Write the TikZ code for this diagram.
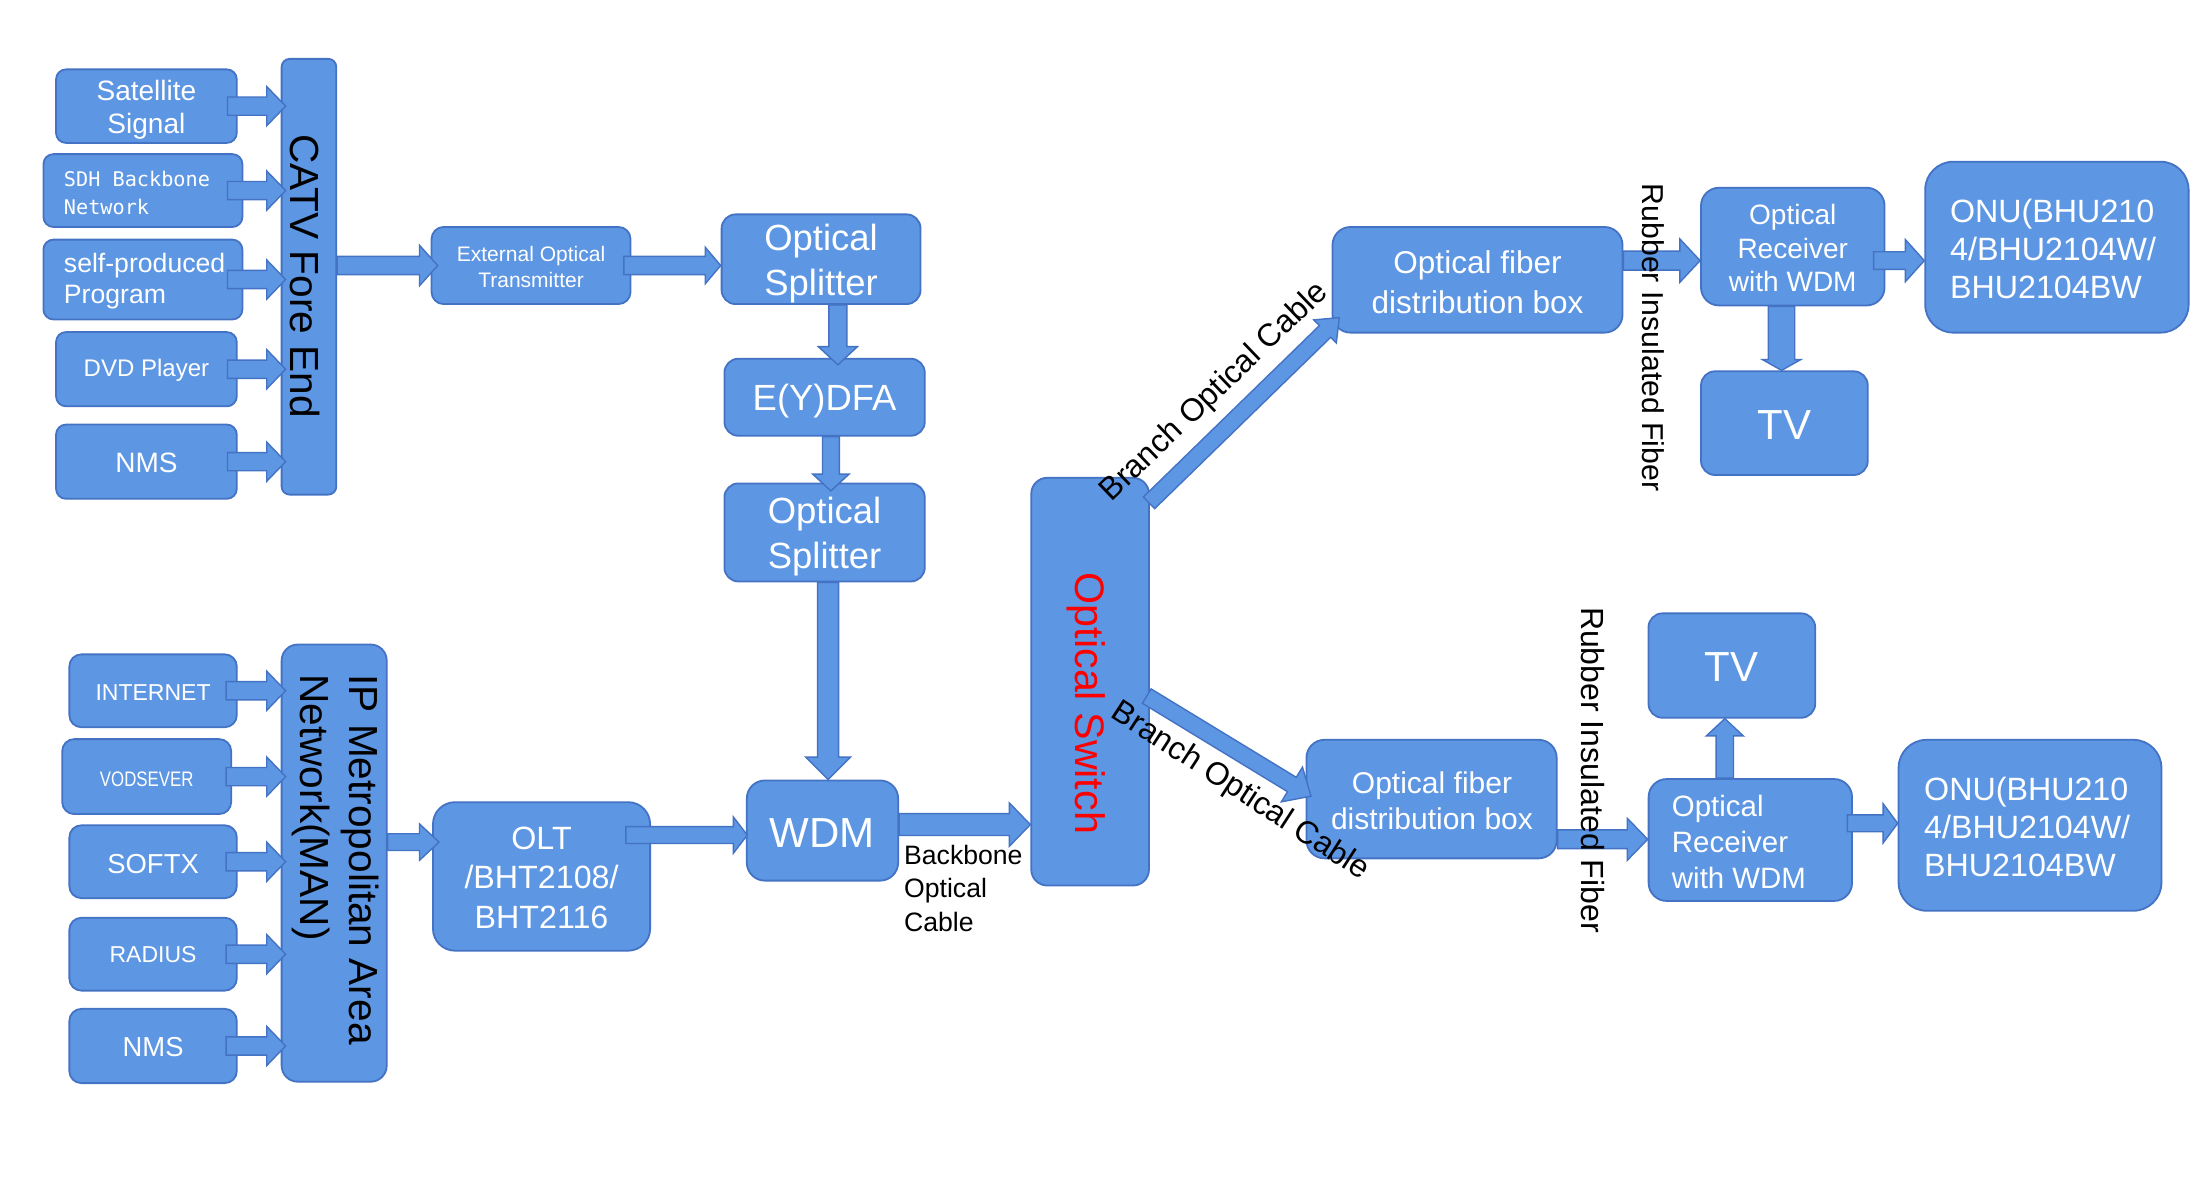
\documentclass[tikz,border=0pt]{standalone}
\usepackage{graphicx}
\usepackage{fontspec}
\setmainfont{Liberation Sans}
\newfontfamily\monofnt{DejaVu Sans Mono}
\usetikzlibrary{calc}
\definecolor{bfill}{RGB}{93,150,227}
\definecolor{bord}{RGB}{68,114,196}
\newcommand{\pxu}{*0.7pt}
\newcommand{\fsz}[2]{\fontsize{#1}{#2}\selectfont}
% block arrow: start, tip, body half width, head half width, head length (px)
\newcommand{\blockarrow}[5]{%
  \draw[barr] let \p1=#1, \p2=#2,
    \n2={veclen(\x2-\x1,\y2-\y1)},
    \n3={#3*0.7pt}, \n4={#4*0.7pt}, \n5={\n2-#5*0.7pt},
    \p3=($(\p1)!\n5!(\p2)$) in
    ($(\p1)!\n3!90:(\p2)$) -- ($(\p3)!\n3!90:(\p2)$) -- ($(\p3)!\n4!90:(\p2)$) --
    (\p2) -- ($(\p3)!\n4!-90:(\p2)$) -- ($(\p3)!\n3!-90:(\p2)$) --
    ($(\p1)!\n3!-90:(\p2)$) -- cycle;}
\begin{document}
\begin{tikzpicture}[x=0.7pt,y=-0.7pt,
  box/.style={draw=bord, fill=bfill, line width=0.9pt, inner sep=0pt, rounded corners=6pt},
  barr/.style={draw=bord, fill=bfill, line width=0.7pt, line join=miter},
  btxt/.style={text=white, align=center, inner sep=0pt},
  wtxt/.style={text=white, align=left, inner sep=0pt, anchor=west},
  ktxt/.style={text=black, inner sep=0pt}]
\fill[white] (0,0) rectangle (1568,841);
\useasboundingbox (0,0) rectangle (1568,841);

% ---------- upper left sources ----------
\node[box, minimum width=129\pxu, minimum height=52.5\pxu, rounded corners=5pt] (sat) at (104.5,75.75) {};
\node[box, minimum width=142\pxu, minimum height=52\pxu, rounded corners=5pt] (sdh) at (102,136) {};
\node[box, minimum width=142\pxu, minimum height=57\pxu, rounded corners=5pt] (selfp) at (102,199.5) {};
\node[box, minimum width=129\pxu, minimum height=53\pxu, rounded corners=5pt] (dvd) at (104.5,263.5) {};
\node[box, minimum width=129\pxu, minimum height=53\pxu, rounded corners=5pt] (nmsa) at (104.5,329.5) {};
\node[box, minimum width=39\pxu, minimum height=311\pxu, rounded corners=4pt] (catv) at (220.5,197.5) {};

\node[btxt, font=\fsz{14}{16.8}] (satt) at ($(sat)+(0,2.5)$) {Satellite\\Signal};
\node[wtxt, font=\monofnt\fsz{10.1}{14}] (sdht) at ($(sdh.west)+(15,2)$) {SDH Backbone\\Network};
\node[wtxt, font=\fsz{13.3}{15.4}] (selfpt) at ($(selfp.west)+(15,1)$) {self-produced\\Program};
\node[btxt, font=\fsz{12}{14}] (dvdt) at ($(dvd)+(0,1)$) {DVD Player};
\node[btxt, font=\fsz{14}{16}] (nmsat) at ($(nmsa)+(0,1)$) {NMS};

% ---------- CATV chain ----------
\node[box, minimum width=142\pxu, minimum height=55\pxu, rounded corners=6pt] (eot) at (379,189.5) {};
\node[box, minimum width=142\pxu, minimum height=64\pxu, rounded corners=7pt] (spla) at (586,185) {};
\node[box, minimum width=143\pxu, minimum height=55\pxu, rounded corners=7pt] (edfa) at (588.5,283.5) {};
\node[box, minimum width=143\pxu, minimum height=70\pxu, rounded corners=7pt] (splb) at (588.5,380) {};
\node[box, minimum width=108\pxu, minimum height=71.5\pxu, rounded corners=9pt] (wdm) at (587,592.75) {};

\node[btxt, font=\fsz{10.5}{12.6}] (eott) at ($(eot)+(0,1)$) {External Optical\\Transmitter};
\node[btxt, font=\fsz{18.2}{22.4}] (splat) at ($(spla)+(0,3)$) {Optical\\Splitter};
\node[btxt, font=\fsz{18.2}{22}] (edfat) at ($(edfa)+(0,3)$) {E(Y)DFA};
\node[btxt, font=\fsz{18.2}{22.4}] (splbt) at ($(splb)+(0,3)$) {Optical\\Splitter};
\node[btxt, font=\fsz{21}{24}] (wdmt) at ($(wdm)+(0,1.5)$) {WDM};

% ---------- lower left sources ----------
\node[box, minimum width=119.5\pxu, minimum height=52\pxu, rounded corners=6pt] (inet) at (109.25,493) {};
\node[box, minimum width=120.6\pxu, minimum height=53.5\pxu, rounded corners=6pt] (vod) at (104.7,554.25) {};
\node[box, minimum width=119.5\pxu, minimum height=52\pxu, rounded corners=6pt] (softx) at (109.25,615) {};
\node[box, minimum width=119.5\pxu, minimum height=52\pxu, rounded corners=6pt] (radius) at (109.25,681) {};
\node[box, minimum width=119.5\pxu, minimum height=53\pxu, rounded corners=6pt] (nmsb) at (109.25,746.5) {};
\node[box, minimum width=75\pxu, minimum height=312\pxu, rounded corners=8pt] (ipman) at (238.5,616) {};
\node[box, minimum width=155\pxu, minimum height=106\pxu, rounded corners=11pt] (olt) at (386.5,625.5) {};

\node[btxt, font=\fsz{11.5}{13}] (inett) at ($(inet)+(0,1)$) {INTERNET};
\node[btxt, font=\fsz{10.5}{12}] (vodt) at ($(vod)+(0,2)$) {\scalebox{0.8}[1]{VODSEVER}};
\node[btxt, font=\fsz{13.7}{15}] (softxt) at ($(softx)+(0,1.5)$) {SOFTX};
\node[btxt, font=\fsz{11.5}{13}] (radiust) at (radius) {RADIUS};
\node[btxt, font=\fsz{13.7}{15}] (nmsbt) at ($(nmsb)+(0,0.5)$) {NMS};
\node[btxt, font=\fsz{16.1}{19.6}] (oltt) at ($(olt)+(0,1)$) {OLT\\/BHT2108/\\BHT2116};

% ---------- optical switch ----------
\node[box, minimum width=84\pxu, minimum height=291\pxu, rounded corners=8pt] (sw) at (778,486.5) {};

% ---------- upper right ----------
\node[box, minimum width=207\pxu, minimum height=75.4\pxu, rounded corners=9pt] (fdba) at (1054.5,199.7) {};
\node[box, minimum width=131\pxu, minimum height=84\pxu, rounded corners=9pt] (reca) at (1279.5,176) {};
\node[box, minimum width=188\pxu, minimum height=122\pxu, rounded corners=14pt] (onua) at (1468,176.4) {};
\node[box, minimum width=119\pxu, minimum height=74\pxu, rounded corners=7pt] (tva) at (1273.5,302) {};

\node[btxt, font=\fsz{15.75}{20}] (fdbat) at ($(fdba)+(0,1.5)$) {Optical fiber\\distribution box};
\node[btxt, font=\fsz{14}{16.7}] (recat) at ($(reca)+(0,1.2)$) {Optical\\Receiver\\with WDM};
\node[wtxt, font=\fsz{16.1}{19.1}] (onuat) at (1391.5,177.5) {ONU(BHU210\\4/BHU2104W/\\BHU2104BW};
\node[btxt, font=\fsz{21}{24}] (tvat) at ($(tva)+(0,1)$) {TV};

% ---------- lower right ----------
\node[box, minimum width=178.6\pxu, minimum height=84.6\pxu, rounded corners=9pt] (fdbb) at (1021.7,570.3) {};
\node[box, minimum width=145.2\pxu, minimum height=87\pxu, rounded corners=9pt] (recb) at (1249.2,599.5) {};
\node[box, minimum width=187.6\pxu, minimum height=122\pxu, rounded corners=14pt] (onub) at (1448.8,589) {};
\node[box, minimum width=119\pxu, minimum height=74.5\pxu, rounded corners=7pt] (tvb) at (1236,475) {};

\node[btxt, font=\fsz{15}{17.8}] (fdbbt) at ($(fdbb)+(0.3,1)$) {Optical fiber\\distribution box};
\node[wtxt, font=\fsz{14.7}{18.1}] (recbt) at (1193,601) {Optical\\Receiver\\with WDM};
\node[wtxt, font=\fsz{16.1}{19.1}] (onubt) at (1373,590.3) {ONU(BHU210\\4/BHU2104W/\\BHU2104BW};
\node[btxt, font=\fsz{21}{24}] (tvbt) at ($(tvb)+(0,1)$) {TV};

% ---------- block arrows ----------
\foreach \s in {sat,sdh,selfp,dvd,nmsa}{
  \blockarrow{($(catv.west|-\s.east)+(-38,0)$)}{($(catv.west|-\s.east)+(3.5,0)$)}{6.5}{14}{13.5}
}
\foreach \s in {inet,vod,softx,radius,nmsb}{
  \blockarrow{($(ipman.west|-\s.east)+(-39,0)$)}{($(ipman.west|-\s.east)+(3.5,0)$)}{6.5}{14}{13.5}
}
\blockarrow{(catv.east|-eot.west)}{($(eot.west)+(5,0)$)}{6.5}{14.5}{13}
\blockarrow{($(eot.east)+(-5.4,0)$)}{(spla.west|-eot.east)}{6.5}{13}{11}
\blockarrow{($(spla.south)+(12,0)$)}{($(edfa.north)+(9.5,5)$)}{6.4}{14}{13}
\blockarrow{($(edfa.south)+(4.5,0)$)}{($(splb.north)+(4.5,6)$)}{6}{13}{12}
\blockarrow{($(splb.south)+(2.5,0)$)}{($(wdm.north)+(4,0)$)}{7.5}{16}{16}
\coordinate (oa) at ($(olt.east)+(-18,-29.5)$);
\blockarrow{(oa)}{($(wdm.west|-oa)+(1,0)$)}{6}{13}{10}
\coordinate (ia) at ($(ipman.east)+(0,-15)$);
\blockarrow{(ia)}{($(olt.west|-ia)+(5,0)$)}{6}{13}{14}
\coordinate (wa) at ($(wdm.east)+(0,-4.25)$);
\blockarrow{(wa)}{(sw.west|-wa)}{7.8}{15.5}{15}
\blockarrow{($(sw.north east)+(-0.6,18.5)$)}{($(fdba.south west)+(5.5,-11.4)$)}{5.8}{11.5}{14}
\blockarrow{($(sw.east)+(-2.2,10.3)$)}{($(fdbb.west)+(3.9,-2.1)$)}{6}{14.5}{15.7}
\coordinate (fa) at ($(fdba.east|-reca.west)+(0,10)$);
\blockarrow{(fa)}{(reca.west|-fa)}{6.8}{15.5}{14.5}
\coordinate (ra) at ($(reca.east)+(-8.5,10)$);
\blockarrow{(ra)}{(onua.west|-ra)}{6.3}{15}{13.5}
\coordinate (rs) at ($(reca.south)+(-8,0)$);
\blockarrow{(rs)}{(rs|-tva.north)}{9.4}{13.6}{7.7}
\coordinate (rb) at ($(recb.north)+(-18.2,0)$);
\blockarrow{(rb)}{(rb|-tvb.south)}{6.2}{13.2}{12.3}
\coordinate (fb) at ($(fdbb.east)+(0,28.7)$);
\blockarrow{(fb)}{(recb.west|-fb)}{6.7}{15}{14.6}
\coordinate (rc) at ($(recb.east)+(-4,-11.9)$);
\blockarrow{(rc)}{(onub.west|-rc)}{6}{14}{10.4}

% ---------- free labels ----------
\node[ktxt, rotate=-90, font=\fsz{20.3}{24}] (catvt) at (218,197) {CATV Fore End};
\node[ktxt, rotate=-90, anchor=west, align=left, font=\fsz{20.3}{24.5}] (ipmant) at (239.5,481) {IP Metropolitan Area\\Network(MAN)};
\node[ktxt, rotate=-90, text=red, font=\fsz{20.6}{24}] (swt) at (775.4,502) {Optical Switch};
\node[ktxt, anchor=west, align=left, font=\fsz{13.3}{16.8}] (bbc) at (645,634) {Backbone\\Optical\\Cable};
\node[ktxt, rotate=43.8, font=\fsz{15.9}{18}] (bra) at (867,280) {Branch Optical Cable};
\node[ktxt, rotate=-33, font=\fsz{15.9}{18}] (brb) at (885,565) {Branch Optical Cable};
\node[ktxt, rotate=-90, font=\fsz{15.1}{18}] (rifa) at (1180,241) {Rubber Insulated Fiber};
\node[ktxt, rotate=-90, font=\fsz{16}{18}] (rifb) at (1137,549.5) {Rubber Insulated Fiber};
\end{tikzpicture}
\end{document}
